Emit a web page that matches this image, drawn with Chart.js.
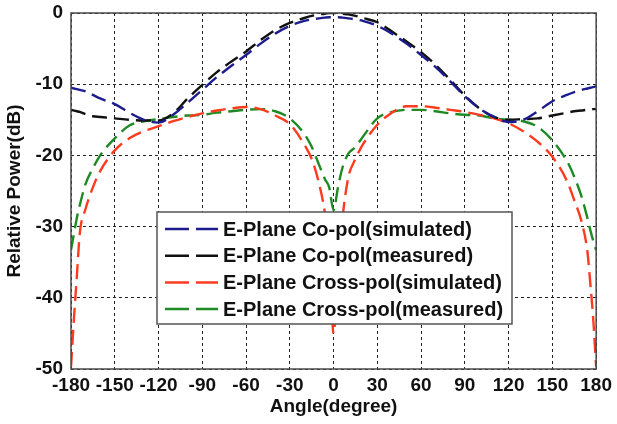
<!DOCTYPE html>
<html>
<head>
<meta charset="utf-8">
<title>E-Plane radiation pattern</title>
<script src="https://cdn.jsdelivr.net/npm/chart.js@4.4.1/dist/chart.umd.min.js"></script>
<style>
  html, body { margin: 0; padding: 0; background: #fff; }
  #wrap { position: relative; width: 617px; height: 424px; }
</style>
</head>
<body>
<div id="wrap"><canvas id="patternChart" width="617" height="424"></canvas></div>
<script>
// angles (deg) and relative power (dB)
var angles = [-180,-178,-176,-174,-170,-165,-160,-150,-140,-130,-120,-110,-100,-90,-80,-70,-60,-50,-40,-30,-20,-15,-10,-6,-3,0,
  3,6,10,15,20,30,40,50,60,70,80,90,100,110,120,130,140,150,160,165,170,174,176,178,180];

var coSim = [-10.5,-10.6,-10.7,-10.8,-11.0,-11.5,-12.0,-12.8,-14.0,-15.0,-15.4,-14.3,-12.6,-10.8,-9.0,-7.4,-5.9,-4.3,-2.9,-1.8,-1.1,-0.9,-0.75,-0.65,-0.6,-0.6,
  -0.6,-0.65,-0.75,-0.9,-1.1,-1.8,-2.9,-4.3,-5.9,-7.6,-9.6,-11.7,-13.4,-14.6,-15.3,-15.0,-13.8,-12.4,-11.5,-11.1,-10.8,-10.6,-10.5,-10.4,-10.3];

var coMeas = [-13.6,-13.7,-13.8,-13.9,-14.2,-14.5,-14.6,-14.8,-15.0,-15.1,-15.1,-14.1,-12.0,-10.1,-8.3,-6.8,-5.4,-3.8,-2.4,-1.4,-0.7,-0.4,-0.2,-0.1,0,0,
  0,-0.1,-0.2,-0.4,-0.7,-1.3,-2.6,-4.0,-5.5,-7.3,-9.4,-11.6,-13.4,-14.6,-15.0,-14.9,-14.8,-14.4,-14.0,-13.8,-13.7,-13.6,-13.6,-13.5,-13.5];

var crossSim = [-49.7,-43,-37,-31,-27.5,-24.5,-22.2,-19.3,-17.6,-16.6,-15.9,-15.2,-14.6,-14.1,-13.7,-13.4,-13.2,-13.5,-14.4,-15.6,-18.5,-20.5,-23.9,-28,-33,-45,
  -36,-29,-23.2,-20.5,-18.5,-15.7,-14.0,-13.1,-13.1,-13.3,-13.6,-13.9,-14.3,-14.8,-15.5,-16.6,-18.1,-20.2,-23.6,-26.3,-29.3,-33.5,-38,-43,-49.7];

var crossMeas = [-33.3,-31,-28.8,-27,-24,-21.8,-20.0,-17.6,-15.8,-15.2,-14.9,-14.6,-14.4,-14.3,-14.0,-13.8,-13.6,-13.5,-13.8,-14.8,-17.0,-18.8,-21.3,-23.3,-24.5,-27.7,
  -24.5,-21.8,-19.8,-18.8,-17.4,-14.8,-13.9,-13.6,-13.6,-13.8,-14.1,-14.3,-14.4,-14.8,-15.0,-15.2,-16.0,-17.9,-20.8,-23,-25.8,-28.8,-30.5,-32,-33.3];

var seriesNames = ['E-Plane Co-pol(simulated)','E-Plane Co-pol(measured)','E-Plane Cross-pol(simulated)','E-Plane Cross-pol(measured)'];
var seriesColors = ['#1c1c8f','#111111','#ff3b1f','#1f8a24'];

var FONT = 'Liberation Sans, Arial, sans-serif';

function toPoints(vals) {
  return angles.map(function (a, i) { return { x: a, y: vals[i] }; });
}

// box frame + legend drawn inside the plot like the original figure
var framePlugin = {
  id: 'frameAndLegend',
  afterDraw: function (chart) {
    var ctx = chart.ctx, a = chart.chartArea;
    ctx.save();
    ctx.strokeStyle = '#4a4a4a';
    ctx.lineWidth = 1.5;
    ctx.setLineDash([]);
    ctx.strokeRect(a.left, a.top, a.right - a.left, a.bottom - a.top);

    var bx = a.left + 86, by = a.top + 199, bw = 355, bh = 112;
    ctx.fillStyle = '#fff';
    ctx.fillRect(bx, by, bw, bh);
    ctx.strokeStyle = '#555';
    ctx.lineWidth = 1.5;
    ctx.strokeRect(bx, by, bw, bh);

    ctx.font = 'bold 20px ' + FONT;
    ctx.textBaseline = 'middle';
    ctx.textAlign = 'left';
    chart.data.datasets.forEach(function (ds, i) {
      var y = by + 17 + i * 26.7;
      ctx.strokeStyle = ds.borderColor;
      ctx.lineWidth = 2.5;
      ctx.setLineDash([24, 7]);
      ctx.beginPath();
      ctx.moveTo(bx + 8, y);
      ctx.lineTo(bx + 61, y);
      ctx.stroke();
      ctx.setLineDash([]);
      ctx.fillStyle = '#111';
      ctx.fillText(ds.label, bx + 66, y + 1);
    });
    ctx.restore();
  }
};

function renderChart() {
  var canvas = document.getElementById('patternChart');
  var datasets = [coSim, coMeas, crossSim, crossMeas].map(function (vals, i) {
    return {
      label: seriesNames[i],
      data: toPoints(vals),
      borderColor: seriesColors[i],
      backgroundColor: seriesColors[i],
      borderWidth: 2.4,
      borderDash: [15, 7],
      pointRadius: 0,
      fill: false,
      cubicInterpolationMode: 'monotone'
    };
  });

  new Chart(canvas.getContext('2d'), {
    type: 'line',
    data: { datasets: datasets },
    options: {
      responsive: false,
      animation: false,
      layout: { padding: { top: 13, right: 19, bottom: 0, left: 0 } },
      plugins: { legend: { display: false }, tooltip: { enabled: false } },
      scales: {
        x: {
          type: 'linear', min: -180, max: 180,
          afterFit: function (s) { s.height = 55; },
          grid: { color: '#222', lineWidth: 1, drawTicks: false },
          border: { display: false, dash: [3, 3] },
          ticks: { stepSize: 30, autoSkip: false, maxRotation: 0, padding: 5, color: '#111', font: { family: FONT, size: 19, weight: 'bold' } },
          title: { display: true, text: 'Angle(degree)', color: '#111', padding: { top: 0, bottom: 6 }, font: { family: FONT, size: 19, weight: 'bold' } }
        },
        y: {
          min: -50, max: 0,
          afterFit: function (s) { s.width = 71; s.paddingTop = 0; s.paddingBottom = 0; },
          grid: { color: '#222', lineWidth: 1, drawTicks: false },
          border: { display: false, dash: [3, 3] },
          ticks: { stepSize: 10, padding: 8, color: '#111', font: { family: FONT, size: 19, weight: 'bold' } },
          title: { display: true, text: 'Relative Power(dB)', color: '#111', padding: { top: 3, bottom: 0 }, font: { family: FONT, size: 19, weight: 'bold' } }
        }
      }
    },
    plugins: [framePlugin]
  });
}

renderChart();
</script>
</body>
</html>
